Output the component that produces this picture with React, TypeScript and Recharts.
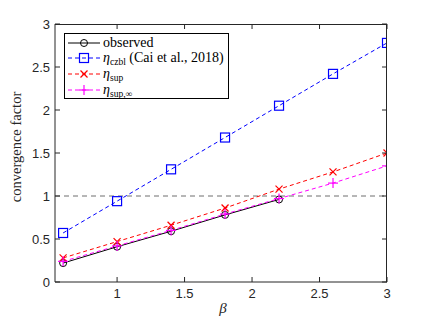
import React from "react";
import { LineChart, Line, XAxis, YAxis, ReferenceLine, Label } from "recharts";

// values
const betaValues = [0.6, 1.0, 1.4, 1.8, 2.2, 2.6, 3.0];
const observed = [0.22, 0.41, 0.59, 0.78, 0.96, null, null];
const etaCzbl = [0.57, 0.94, 1.31, 1.68, 2.05, 2.42, 2.78];
const etaSup = [0.28, 0.47, 0.66, 0.86, 1.08, 1.28, 1.5];
const etaSupInf = [0.24, 0.42, 0.6, 0.79, 0.97, 1.15, 1.35];

const xTicks = [1, 1.5, 2, 2.5, 3];
const yTicks = [0, 0.5, 1, 1.5, 2, 2.5, 3];

const chartData = betaValues.map((beta, i) => ({
  beta,
  observed: observed[i],
  czbl: etaCzbl[i],
  sup: etaSup[i],
  supInf: etaSupInf[i],
}));

const X_DOMAIN = [0.54, 3];
const Y_DOMAIN = [0, 3];
const W = 427;
const H = 321;
const MARGIN = { top: 24, right: 40, bottom: 38, left: 54 };
const TICK_PX = 5;

// plot rectangle (axis widths of 1px included)
const PLOT = {
  left: MARGIN.left + 1,
  top: MARGIN.top,
  right: W - MARGIN.right,
  bottom: H - MARGIN.bottom - 1,
};

const AXIS = "#262626";
const SERIF = "'Liberation Serif', 'DejaVu Serif', serif";
const SANS = "'Liberation Sans', Arial, sans-serif";

type Shape = "circle" | "square" | "x" | "plus";

function Marker({ shape, cx, cy, color }: { shape: Shape; cx: number; cy: number; color: string }) {
  if (shape === "circle") return <circle cx={cx} cy={cy} r={3.5} fill="none" stroke={color} strokeWidth={1} />;
  if (shape === "square")
    return <rect x={cx - 4.5} y={cy - 4.5} width={9} height={9} fill="none" stroke={color} strokeWidth={1.2} />;
  if (shape === "x")
    return (
      <g stroke={color} strokeWidth={1.2}>
        <line x1={cx - 3.5} y1={cy - 3.5} x2={cx + 3.5} y2={cy + 3.5} />
        <line x1={cx - 3.5} y1={cy + 3.5} x2={cx + 3.5} y2={cy - 3.5} />
      </g>
    );
  return (
    <g stroke={color} strokeWidth={1.2}>
      <line x1={cx - 5} y1={cy} x2={cx + 5} y2={cy} />
      <line x1={cx} y1={cy - 5} x2={cx} y2={cy + 5} />
    </g>
  );
}

const dotFor = (shape: Shape, color: string) => (props: any) => {
  const { cx, cy, index, value } = props;
  if (value == null || cy == null || isNaN(cy)) return <g key={`d-${shape}-${index}`} />;
  return (
    <g key={`d-${shape}-${index}`}>
      <Marker shape={shape} cx={cx} cy={cy} color={color} />
    </g>
  );
};

const series = [
  { key: "observed", color: "#000000", shape: "circle" as Shape, dash: undefined, name: "observed", sub: "", extra: "" },
  { key: "czbl", color: "#0000ff", shape: "square" as Shape, dash: "4 3", name: "η", sub: "czbl", extra: " (Cai et al., 2018)" },
  { key: "sup", color: "#ff0000", shape: "x" as Shape, dash: "4 3", name: "η", sub: "sup", extra: "" },
  { key: "supInf", color: "#ff00ff", shape: "plus" as Shape, dash: "4 3", name: "η", sub: "sup,∞", extra: "" },
];

// top and right edges of the MATLAB-style box, with inward ticks
function AxisBox() {
  const px = (t: number) =>
    PLOT.left + ((t - X_DOMAIN[0]) / (X_DOMAIN[1] - X_DOMAIN[0])) * (PLOT.right - PLOT.left);
  const py = (t: number) =>
    PLOT.bottom - ((t - Y_DOMAIN[0]) / (Y_DOMAIN[1] - Y_DOMAIN[0])) * (PLOT.bottom - PLOT.top);
  return (
    <svg
      width={W}
      height={H}
      style={{ position: "absolute", left: 0, top: 0, pointerEvents: "none" }}
    >
      <g stroke={AXIS} strokeWidth={1} fill="none">
        <line x1={PLOT.left} y1={PLOT.top + 0.5} x2={PLOT.right} y2={PLOT.top + 0.5} />
        <line x1={PLOT.right - 0.5} y1={PLOT.top} x2={PLOT.right - 0.5} y2={PLOT.bottom} />
        {xTicks.map((t) => (
          <line key={`tx-${t}`} x1={px(t)} y1={PLOT.top} x2={px(t)} y2={PLOT.top + TICK_PX} />
        ))}
        {yTicks.map((t) => (
          <line key={`ty-${t}`} x1={PLOT.right} y1={py(t)} x2={PLOT.right - TICK_PX} y2={py(t)} />
        ))}
      </g>
    </svg>
  );
}

function LegendBox() {
  return (
    <div
      style={{
        position: "absolute",
        left: 64,
        top: 33,
        width: 165,
        height: 66,
        border: "1px solid #000",
        background: "#fff",
        fontFamily: SERIF,
        fontSize: 14,
        color: "#000",
        boxSizing: "border-box",
        paddingTop: 1,
      }}
    >
      {series.map((s) => (
        <div key={s.key} style={{ display: "flex", alignItems: "center", height: 15.6, whiteSpace: "nowrap" }}>
          <svg width={38} height={14} style={{ flex: "none" }}>
            <line x1={3} y1={7} x2={35} y2={7} stroke={s.color} strokeWidth={1} strokeDasharray={s.dash} />
            <Marker shape={s.shape} cx={19} cy={7} color={s.color} />
          </svg>
          {s.sub ? (
            <span>
              <i>{s.name}</i>
              <span style={{ fontSize: 9.5, position: "relative", top: 3 }}>{s.sub}</span>
              {s.extra}
            </span>
          ) : (
            <span>{s.name}</span>
          )}
        </div>
      ))}
    </div>
  );
}

export default function App() {
  return (
    <div style={{ position: "absolute", left: 0, top: 0, width: W, height: H, background: "#fff" }}>
      <LineChart width={W} height={H} data={chartData} margin={MARGIN}>
        <XAxis
          dataKey="beta"
          type="number"
          domain={X_DOMAIN}
          ticks={xTicks}
          allowDataOverflow
          height={1}
          stroke={AXIS}
          tickSize={-TICK_PX}
          tickMargin={12}
          tick={{ fill: AXIS, fontSize: 13, fontFamily: SANS }}
          tickLine={{ stroke: AXIS }}
        >
          <Label
            content={({ viewBox }: any) => (
              <text
                x={viewBox.x + viewBox.width / 2 + 2}
                y={viewBox.y + 31}
                textAnchor="middle"
                fontFamily={SERIF}
                fontStyle="italic"
                fontSize={15}
                fill={AXIS}
              >
                β
              </text>
            )}
          />
        </XAxis>
        <YAxis
          type="number"
          domain={Y_DOMAIN}
          ticks={yTicks}
          allowDataOverflow
          width={1}
          stroke={AXIS}
          tickSize={-TICK_PX}
          tickMargin={10}
          tick={{ fill: AXIS, fontSize: 13, fontFamily: SANS }}
          tickLine={{ stroke: AXIS }}
        >
          <Label
            content={({ viewBox }: any) => {
              const x = viewBox.x - 36;
              const y = viewBox.y + viewBox.height / 2 - 6;
              return (
                <text
                  x={x}
                  y={y}
                  transform={`rotate(-90, ${x}, ${y})`}
                  textAnchor="middle"
                  dominantBaseline="middle"
                  fontFamily={SERIF}
                  fontSize={14.5}
                  fill={AXIS}
                >
                  convergence factor
                </text>
              );
            }}
          />
        </YAxis>
        <ReferenceLine y={1} stroke="#6e6e6e" strokeDasharray="5 4" strokeWidth={1} />
        {series.map((s) => (
          <Line
            key={s.key}
            dataKey={s.key}
            type="linear"
            stroke={s.color}
            strokeWidth={1}
            strokeDasharray={s.dash}
            dot={dotFor(s.shape, s.color)}
            activeDot={false}
            isAnimationActive={false}
            connectNulls={false}
          />
        ))}
      </LineChart>
      <AxisBox />
      <LegendBox />
    </div>
  );
}
